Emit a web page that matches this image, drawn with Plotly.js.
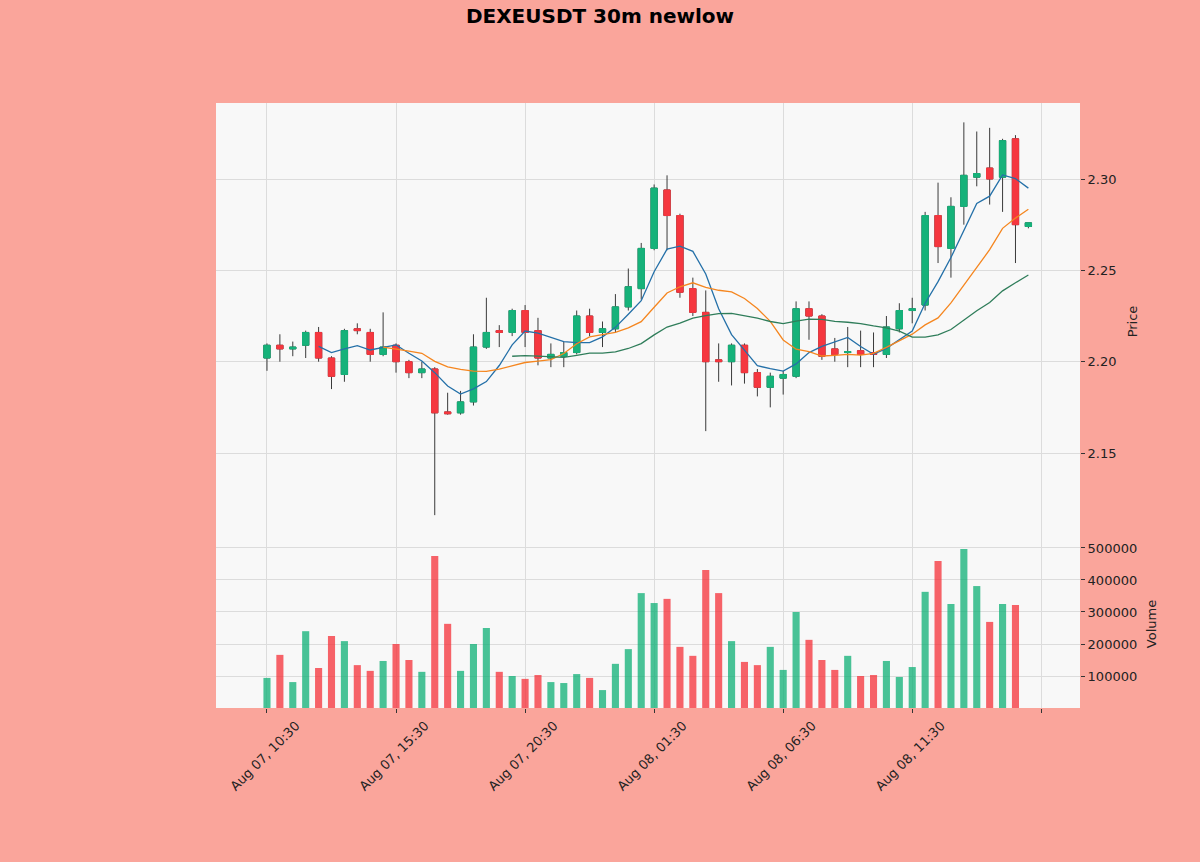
<!DOCTYPE html>
<html>
<head>
<meta charset="utf-8">
<script src="https://cdn.plot.ly/plotly-3.0.1.min.js"></script>
<style>html,body{margin:0;padding:0;background:#faa59b;}#chart{width:1200px;height:862px;}</style>
</head>
<body>
<div id="chart"></div>
<script>
// Candle index 0 = Aug 07 10:30, 30-minute bars
var tickLabels = ['Aug 07, 10:30','Aug 07, 15:30','Aug 07, 20:30','Aug 08, 01:30','Aug 08, 06:30','Aug 08, 11:30',''];
var tickIdx = [0,10,20,30,40,50,60];

var opens = [2.202,2.209,2.207,2.209,2.216,2.202,2.193,2.218,2.216,2.204,
             2.209,2.200,2.194,2.196,2.1725,2.172,2.178,2.208,2.217,2.216,
             2.228,2.217,2.202,2.203,2.205,2.225,2.216,2.218,2.230,2.240,
             2.262,2.294,2.280,2.240,2.227,2.201,2.200,2.209,2.194,2.186,
             2.191,2.192,2.229,2.225,2.207,2.205,2.206,2.205,2.204,2.218,
             2.228,2.231,2.280,2.262,2.285,2.301,2.306,2.301,2.322,2.274];
var highs = [2.210,2.215,2.211,2.217,2.219,2.203,2.218,2.221,2.218,2.227,
             2.210,2.201,2.200,2.197,2.183,2.184,2.215,2.235,2.220,2.229,
             2.231,2.224,2.210,2.211,2.228,2.229,2.222,2.237,2.251,2.265,
             2.297,2.302,2.281,2.246,2.239,2.210,2.210,2.210,2.196,2.194,
             2.195,2.233,2.233,2.226,2.213,2.219,2.217,2.216,2.225,2.232,
             2.235,2.282,2.298,2.290,2.331,2.326,2.328,2.322,2.324,2.276];
var lows  = [2.195,2.200,2.203,2.202,2.200,2.185,2.189,2.215,2.200,2.203,
             2.194,2.191,2.191,2.116,2.171,2.171,2.176,2.207,2.208,2.214,
             2.208,2.198,2.197,2.197,2.204,2.214,2.208,2.216,2.228,2.234,
             2.261,2.261,2.235,2.225,2.162,2.189,2.187,2.188,2.181,2.175,
             2.182,2.191,2.212,2.201,2.200,2.197,2.197,2.197,2.202,2.216,
             2.221,2.228,2.254,2.246,2.275,2.296,2.286,2.282,2.254,2.273];
var closes = [2.209,2.207,2.208,2.216,2.202,2.192,2.217,2.217,2.204,2.208,
              2.200,2.194,2.196,2.172,2.1715,2.178,2.208,2.216,2.216,2.228,
              2.216,2.202,2.204,2.205,2.225,2.216,2.218,2.230,2.241,2.262,
              2.295,2.280,2.238,2.227,2.200,2.200,2.209,2.194,2.186,2.192,
              2.193,2.229,2.225,2.203,2.204,2.2055,2.204,2.204,2.219,2.228,
              2.229,2.280,2.263,2.285,2.302,2.303,2.300,2.321,2.275,2.276];
var volumes = [94000,166000,81000,240000,125000,225000,209000,134000,116000,147000,
               200000,150000,113000,475000,263000,116000,200000,250000,113000,100000,
               91000,103000,81000,78000,106000,94000,56000,138000,184000,359000,
               328000,341000,191000,163000,431000,359000,209000,144000,134000,191000,
               119000,300000,213000,150000,119000,163000,100000,103000,147000,97000,
               128000,363000,459000,325000,497000,381000,269000,325000,322000,0];

var UP = '#16b27a', DOWN = '#f5373f', WICK = '#3a3a3a';

var idx = closes.map(function(_, i){ return i; });
function sma(arr, n){
  var xs = [], ys = [];
  for (var i = n - 1; i < arr.length; i++){
    var s = 0; for (var k = i - n + 1; k <= i; k++) s += arr[k];
    xs.push(i); ys.push(s / n);
  }
  return {x: xs, y: ys};
}
var bodyHi = opens.map(function(o, i){ return Math.max(o, closes[i]); });
var bodyLo = opens.map(function(o, i){ return Math.min(o, closes[i]); });
var volColors = opens.map(function(o, i){ return closes[i] >= o ? 'rgba(22,178,122,0.78)' : 'rgba(245,55,63,0.78)'; });

var ma5 = sma(closes, 5), ma10 = sma(closes, 10), ma20 = sma(closes, 20);

var traces = [
  {type:'candlestick', x: idx, open: opens, high: highs, low: lows, close: closes,
   increasing:{line:{color:WICK, width:1}, fillcolor:WICK},
   decreasing:{line:{color:WICK, width:1}, fillcolor:WICK},
   whiskerwidth:0, showlegend:false, hoverinfo:'skip', xaxis:'x', yaxis:'y'},
  {type:'candlestick', x: idx, open: opens, high: bodyHi, low: bodyLo, close: closes,
   increasing:{line:{color:UP, width:1}, fillcolor:UP},
   decreasing:{line:{color:DOWN, width:1}, fillcolor:DOWN},
   whiskerwidth:0, showlegend:false, xaxis:'x', yaxis:'y'},
  {type:'scatter', mode:'lines', x: ma5.x, y: ma5.y, line:{color:'#2470a8', width:1.3}, showlegend:false, xaxis:'x', yaxis:'y'},
  {type:'scatter', mode:'lines', x: ma10.x, y: ma10.y, line:{color:'#f5861f', width:1.3}, showlegend:false, xaxis:'x', yaxis:'y'},
  {type:'scatter', mode:'lines', x: ma20.x, y: ma20.y, line:{color:'#2f7d5a', width:1.3}, showlegend:false, xaxis:'x', yaxis:'y'},
  {type:'bar', x: idx, y: volumes, marker:{color: volColors, line:{width:0}}, width:0.55, showlegend:false, xaxis:'x', yaxis:'y2'}
];

var font = {family:'DejaVu Sans, sans-serif', size:13, color:'#222'};
var layout = {
  width:1200, height:862,
  paper_bgcolor:'#faa59b', plot_bgcolor:'#f8f8f8',
  margin:{l:216, r:120, t:103, b:154},
  font: font,
  showlegend:false,
  boxmode:'overlay',
  title:{text:'<b>DEXEUSDT 30m newlow</b>', x:0.5, xanchor:'center', xref:'container', y:1-16/862, yanchor:'middle', yref:'container',
         font:{family:'DejaVu Sans, sans-serif', size:20, color:'#000'}},
  xaxis:{domain:[0,1], range:[-3.95,63.0], anchor:'y2', tickmode:'array', tickvals: tickIdx, ticktext: tickLabels,
         tickangle:-45, ticklabelshift:29, showgrid:true, gridcolor:'#dcdcdc', gridwidth:1, zeroline:false, showline:false,
         ticks:'outside', ticklen:4, tickcolor:'#333', rangeslider:{visible:false}, tickfont:font, automargin:false},
  yaxis:{domain:[0.2777,1], range:[2.1024,2.3416], side:'right', anchor:'x', tickmode:'array', tickvals:[2.15,2.20,2.25,2.30],
         tickformat:'.2f', showgrid:true, gridcolor:'#dcdcdc', zeroline:false, showline:false, ticks:'outside', ticklen:4, tickcolor:'#333',
         title:{text:'Price', font:font, standoff:12}, tickfont:font, automargin:false},
  yaxis2:{domain:[0,0.2777], range:[0,525000], side:'right', anchor:'x', tickmode:'array', tickvals:[100000,200000,300000,400000,500000],
          tickformat:'d', showgrid:true, gridcolor:'#dcdcdc', zeroline:false, showline:false, ticks:'outside', ticklen:4, tickcolor:'#333',
          title:{text:'Volume', font:font, standoff:10}, tickfont:font, automargin:false}
};

Plotly.newPlot('chart', traces, layout, {displayModeBar:false, staticPlot:true});
</script>
</body>
</html>
